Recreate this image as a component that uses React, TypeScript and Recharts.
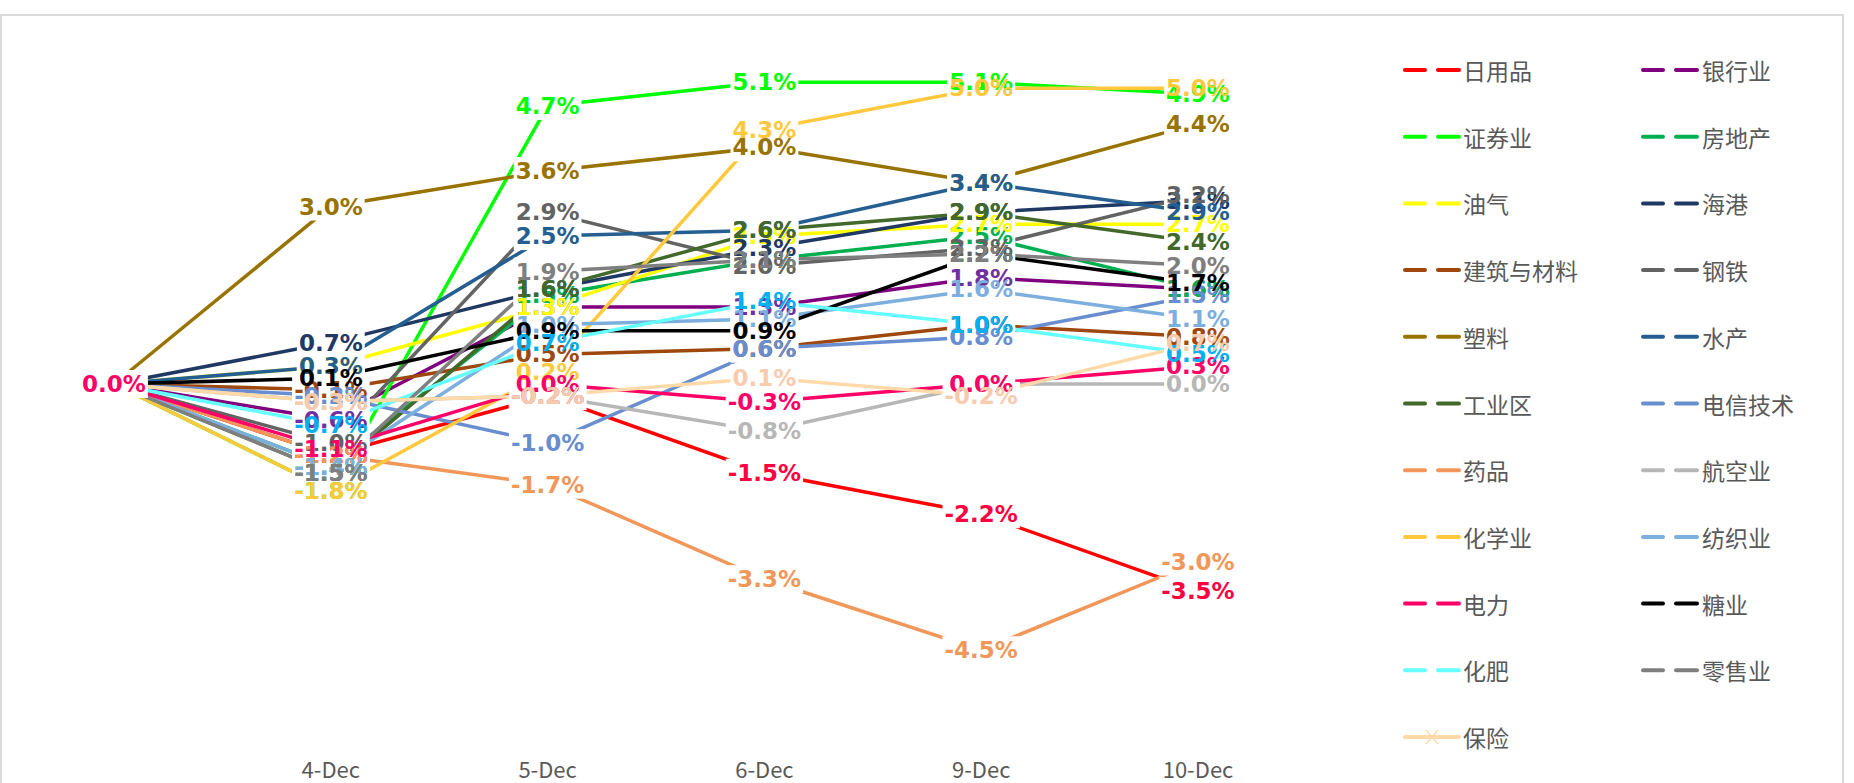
import React from 'react'
import { LineChart, Line, XAxis, YAxis, LabelList } from 'recharts'

const categories = ['', '4-Dec', '5-Dec', '6-Dec', '9-Dec', '10-Dec']

// % change per sector
const dailyGoods = [0, -1.2, -0.2, -1.5, -2.2, -3.5]
const banking = [0, -0.6, 1.3, 1.3, 1.8, 1.6]
const securities = [0, -1.8, 4.7, 5.1, 5.1, 4.9]
const realEstate = [0, -1.4, 1.5, 2.1, 2.5, 1.6]
const oilGas = [0, 0.3, 1.3, 2.5, 2.7, 2.7]
const ports = [0, 0.7, 1.6, 2.3, 2.9, 3.1]
const construction = [0, -0.1, 0.5, 0.6, 1.0, 0.8]
const steel = [0, -1.0, 2.9, 2.0, 2.3, 3.2]
const plastics = [0, 3.0, 3.6, 4.0, 3.4, 4.4]
const fishery = [0, 0.3, 2.5, 2.6, 3.4, 2.9]
const industrial = [0, -1.5, 1.6, 2.6, 2.9, 2.4]
const telecom = [0, -0.2, -1.0, 0.6, 0.8, 1.5]
const pharma = [0, -1.2, -1.7, -3.3, -4.5, -3.0]
const airlines = [0, -0.3, -0.2, -0.8, 0.0, 0.0]
const chemicals = [0, -1.8, 0.2, 4.3, 5.0, 5.0]
const textiles = [0, -1.4, 1.0, 1.1, 1.6, 1.1]
const power = [0, -1.1, 0.0, -0.3, 0.0, 0.3]
const sugar = [0, 0.1, 0.9, 0.9, 2.2, 1.7]
const fertilizer = [0, -0.7, 0.7, 1.4, 1.0, 0.5]
const retail = [0, -1.5, 1.9, 2.1, 2.2, 2.0]
const insurance = [0, -0.3, -0.2, 0.1, -0.2, 0.7]

const series = [
  { key: 'dailyGoods', name: '日用品', values: dailyGoods, color: '#FF0000', labelColor: '#FF0040' },
  { key: 'banking', name: '银行业', values: banking, color: '#800080', labelColor: '#7030A0' },
  { key: 'securities', name: '证券业', values: securities, color: '#00FF00', labelColor: '#00FF00' },
  { key: 'realEstate', name: '房地产', values: realEstate, color: '#00B050', labelColor: '#00B050' },
  { key: 'oilGas', name: '油气', values: oilGas, color: '#FFFF00', labelColor: '#FFFF00' },
  { key: 'ports', name: '海港', values: ports, color: '#203864', labelColor: '#203864' },
  { key: 'construction', name: '建筑与材料', values: construction, color: '#9E480E', labelColor: '#9E480E' },
  { key: 'steel', name: '钢铁', values: steel, color: '#636363', labelColor: '#636363' },
  { key: 'plastics', name: '塑料', values: plastics, color: '#997300', labelColor: '#997300' },
  { key: 'fishery', name: '水产', values: fishery, color: '#255E91', labelColor: '#255E91' },
  { key: 'industrial', name: '工业区', values: industrial, color: '#43682B', labelColor: '#43682B' },
  { key: 'telecom', name: '电信技术', values: telecom, color: '#698ED0', labelColor: '#698ED0' },
  { key: 'pharma', name: '药品', values: pharma, color: '#F1975A', labelColor: '#F1975A' },
  { key: 'airlines', name: '航空业', values: airlines, color: '#B7B7B7', labelColor: '#B7B7B7' },
  { key: 'chemicals', name: '化学业', values: chemicals, color: '#FFC83D', labelColor: '#FFC83D' },
  { key: 'textiles', name: '纺织业', values: textiles, color: '#7CAFDD', labelColor: '#7CAFDD' },
  { key: 'power', name: '电力', values: power, color: '#FF0066', labelColor: '#FF0066' },
  { key: 'sugar', name: '糖业', values: sugar, color: '#000000', labelColor: '#000000' },
  { key: 'fertilizer', name: '化肥', values: fertilizer, color: '#66FFFF', labelColor: '#00B0F0' },
  { key: 'retail', name: '零售业', values: retail, color: '#7F7F7F', labelColor: '#7F7F7F' },
  { key: 'insurance', name: '保险', values: insurance, color: '#FFDAA8', labelColor: '#F8CBAD' },
]

// only 电力 shows its label on the first (blank) category
const firstLabelKey = 'power'

const data = categories.map((cat, i) => {
  const row: Record<string, any> = { cat }
  series.forEach(s => {
    row[s.key] = s.values[i]
    row['lbl_' + s.key] = i === 0 && s.key !== firstLabelKey ? null : s.values[i]
  })
  return row
})

const LABEL_SIZE = 23
const fmt = (v: number) => `${v.toFixed(1)}%`
const textWidth = (s: string) =>
  [...s].reduce((w, ch) => w + (ch === '%' ? 1.002 : ch === '.' ? 0.38 : ch === '-' ? 0.415 : 0.696), 0) * LABEL_SIZE

// white label boxes cut the lines, as in the Excel original
const boxLabel = (props: any) => {
  const { x, y, value } = props
  if (value == null || x == null || y == null) return null
  const w = textWidth(fmt(value)) + 4
  return <rect x={x - w / 2} y={y - 14} width={w} height={28} fill="#ffffff" />
}

const textLabel = (color: string) => (props: any) => {
  const { x, y, value } = props
  if (value == null || x == null || y == null) return null
  return (
    <text
      x={x}
      y={y}
      textAnchor="middle"
      dominantBaseline="central"
      fill={color}
      fontSize={LABEL_SIZE}
      fontWeight="bold"
      fontFamily="'DejaVu Sans', sans-serif"
    >
      {fmt(value)}
    </text>
  )
}

const CategoryTick = (props: any) => {
  const { x, payload } = props
  return (
    <text x={x} y={778} textAnchor="middle" fill="#595959" fontSize={22} fontFamily="'Noto Sans CJK SC', sans-serif">
      {payload.value}
    </text>
  )
}

const Legend = () => (
  <svg width={1854} height={783} style={{ position: 'absolute', left: 0, top: 0, pointerEvents: 'none' }}>
    {series.map((s, i) => {
      const col = i % 2
      const row = Math.floor(i / 2)
      const sx = col ? 1643 : 1405
      const tx = col ? 1702 : 1463
      const cy = 70 + row * 66.7
      const isLast = s.key === 'insurance'
      return (
        <g key={s.key}>
          {isLast ? (
            <>
              <line x1={sx} y1={cy} x2={sx + 54} y2={cy} stroke={s.color} strokeWidth={4} strokeLinecap="round" />
              <line x1={sx + 21} y1={cy - 7} x2={sx + 33} y2={cy + 7} stroke={s.color} strokeWidth={1.2} />
              <line x1={sx + 21} y1={cy + 7} x2={sx + 33} y2={cy - 7} stroke={s.color} strokeWidth={1.2} />
            </>
          ) : (
            <>
              <line x1={sx} y1={cy} x2={sx + 20} y2={cy} stroke={s.color} strokeWidth={4} strokeLinecap="round" />
              <line x1={sx + 33} y1={cy} x2={sx + 54} y2={cy} stroke={s.color} strokeWidth={4} strokeLinecap="round" />
            </>
          )}
          <text x={tx} y={cy} dominantBaseline="central" fill="#595959" fontSize={23} fontFamily="'Noto Sans CJK SC', sans-serif">
            {s.name}
          </text>
        </g>
      )
    })}
  </svg>
)

export default function App() {
  return (
    <div style={{ position: 'absolute', left: 0, top: 0, width: 1854, height: 783, overflow: 'hidden', background: '#fff' }}>
      <div style={{ position: 'absolute', left: 0, top: 14, width: 1844, height: 820, border: '2px solid #DADADA', boxSizing: 'border-box' }} />
      <div style={{ position: 'absolute', left: 0, top: 0 }}>
        <LineChart width={1854} height={783} data={data} margin={{ top: 29, right: 656, bottom: 0, left: 114 }}>
          <XAxis dataKey="cat" height={44} axisLine={false} tickLine={false} interval={0} tick={<CategoryTick />} />
          <YAxis hide domain={[-6, 6]} type="number" allowDataOverflow />
          {series.map(s => (
            <Line
              key={s.key}
              type="linear"
              dataKey={s.key}
              stroke={s.color}
              strokeWidth={3.5}
              dot={false}
              activeDot={false}
              legendType="none"
              isAnimationActive={false}
            />
          ))}
          {series.map(s => (
            <Line
              key={'box_' + s.key}
              type="linear"
              dataKey={'lbl_' + s.key}
              stroke="none"
              dot={false}
              activeDot={false}
              legendType="none"
              isAnimationActive={false}
            >
              <LabelList dataKey={'lbl_' + s.key} content={boxLabel} />
            </Line>
          ))}
          {series.map(s => (
            <Line
              key={'txt_' + s.key}
              type="linear"
              dataKey={'lbl_' + s.key}
              stroke="none"
              dot={false}
              activeDot={false}
              legendType="none"
              isAnimationActive={false}
            >
              <LabelList dataKey={'lbl_' + s.key} content={textLabel(s.labelColor)} />
            </Line>
          ))}
        </LineChart>
      </div>
      <Legend />
    </div>
  )
}
